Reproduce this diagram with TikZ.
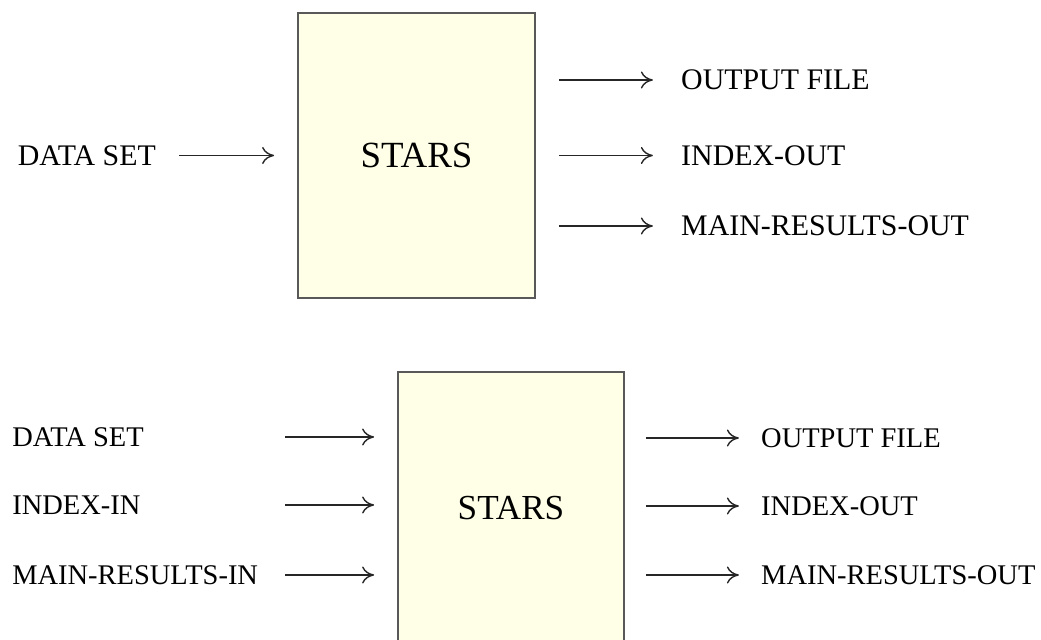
\documentclass[tikz,border=0pt]{standalone}
\usepackage{fontspec}
\setmainfont{Liberation Serif}
\usetikzlibrary{arrows.meta, positioning}
\definecolor{boxfill}{RGB}{255,255,232}
\tikzset{
  program/.style={
    rectangle, draw=black!65, line width=1pt, fill=boxfill,
    align=center, font=\fontsize{#1}{25}\selectfont
  },
  program/.default=21,
  stream/.style={
    rectangle, inner sep=0pt, anchor=west,
    font=\fontsize{#1}{20}\selectfont
  },
  stream/.default=17,
  arrow/.style={-{To[length=2.4mm, width=3.4mm]}, line width=0.8pt, draw=black!85}
}

\begin{document}
\begin{tikzpicture}
  \useasboundingbox (0,0) rectangle (20.82,12.8);

  % first run: data set only
  \node[program, minimum width=4.74cm, minimum height=5.7cm] (stars1) at (8.33,9.69) {STARS};

  \node[stream, left=2.82cm of stars1.west, anchor=east] (ds1) {DATA SET};

  \node[stream, right=2.9cm of stars1.east, yshift=1.51cm] (of1) {OUTPUT FILE};
  \node[stream, right=2.9cm of stars1.east] (io1) {INDEX-OUT};
  \node[stream, right=2.9cm of stars1.east, yshift=-1.41cm] (mo1) {MAIN-RESULTS-OUT};

  \draw[arrow, shorten <=0.46cm, shorten >=0.46cm] (ds1.east) -- (ds1.east -| stars1.west);
  \foreach \n in {of1, io1, mo1}
    \draw[arrow, shorten <=0.46cm, shorten >=0.56cm] (stars1.east |- \n.west) -- (\n.west);

  % second run: restart with index and main results
  \node[program=20, minimum width=4.52cm, minimum height=5.44cm] (stars2) at (10.22,2.64) {STARS};

  \node[stream=16.2] (ds2) at (0.24,4.06) {DATA SET};
  \node[stream=16.2, below=1.36cm of ds2.west, anchor=west] (ii2) {INDEX-IN};
  \node[stream=16.2, below=1.4cm of ii2.west, anchor=west] (mi2) {MAIN-RESULTS-IN};

  \node[stream=16.2, right=2.72cm of stars2.east, yshift=1.4cm] (of2) {OUTPUT FILE};
  \node[stream=16.2, right=2.72cm of stars2.east, yshift=0.04cm] (io2) {INDEX-OUT};
  \node[stream=16.2, right=2.72cm of stars2.east, yshift=-1.34cm] (mo2) {MAIN-RESULTS-OUT};

  \coordinate (inx) at (5.7,0);
  \foreach \n in {ds2, ii2, mi2}
    \draw[arrow, shorten >=0.46cm] (\n.west -| inx) -- (\n.west -| stars2.west);
  \foreach \n in {of2, io2, mo2}
    \draw[arrow, shorten <=0.42cm, shorten >=0.44cm] (stars2.east |- \n.west) -- (\n.west);
\end{tikzpicture}
\end{document}
